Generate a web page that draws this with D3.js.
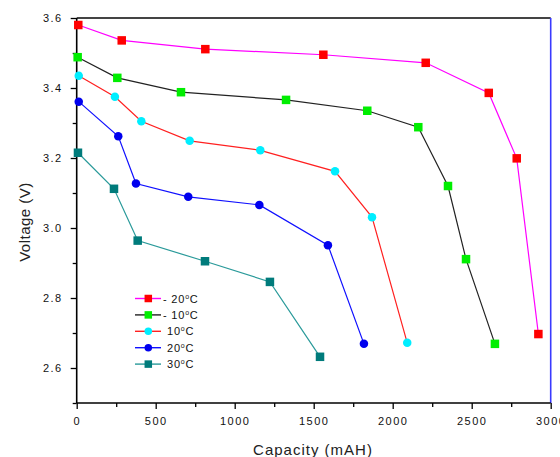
<!DOCTYPE html>
<html>
<head>
<meta charset="utf-8">
<script src="https://cdn.jsdelivr.net/npm/d3@7"></script>
<style>
  body { margin: 0; background: #fff; }
  text { font-family: "Liberation Sans", Arial, sans-serif; }
</style>
</head>
<body>
<div id="chart"></div>
<script>
// capacity (mAH) / voltage (V)
const capMinus20 = [10, 285, 814, 1561, 2209, 2608, 2785, 2922]
const voltMinus20 = [3.58, 3.536, 3.511, 3.495, 3.472, 3.386, 3.199, 2.697]

const capMinus10 = [6, 257, 660, 1325, 1839, 2162, 2350, 2464, 2647]
const voltMinus10 = [3.488, 3.429, 3.388, 3.366, 3.335, 3.288, 3.12, 2.911, 2.669]

const cap10 = [13, 242, 409, 715, 1162, 1635, 1869, 2092]
const volt10 = [3.435, 3.375, 3.305, 3.249, 3.222, 3.162, 3.031, 2.672]

const cap20 = [13, 263, 375, 706, 1156, 1590, 1818]
const volt20 = [3.361, 3.262, 3.127, 3.089, 3.066, 2.951, 2.669]

const cap30 = [8, 236, 386, 812, 1223, 1540]
const volt30 = [3.215, 3.112, 2.964, 2.905, 2.846, 2.632]

const seriesNames = ["- 20", "- 10", "10", "20", "30"]
const xTicks = [0, 500, 1000, 1500, 2000, 2500, 3000]
const yTicks = [2.6, 2.8, 3.0, 3.2, 3.4, 3.6]

const W = 560, H = 457
const MARGIN = { TOP: 18, LEFT: 76.7, RIGHT: 9.3, BOTTOM: 54 }
const WIDTH = W - MARGIN.LEFT - MARGIN.RIGHT
const HEIGHT = H - MARGIN.TOP - MARGIN.BOTTOM

const series = [
	{ name: seriesNames[0], cap: capMinus20, volt: voltMinus20, line: "#ff00ff", fill: "#ff0000", shape: "square" },
	{ name: seriesNames[1], cap: capMinus10, volt: voltMinus10, line: "#222222", fill: "#00ee00", shape: "square" },
	{ name: seriesNames[2], cap: cap10, volt: volt10, line: "#ff2020", fill: "#00eeff", shape: "circle" },
	{ name: seriesNames[3], cap: cap20, volt: volt20, line: "#1010ff", fill: "#0000ee", shape: "circle" },
	{ name: seriesNames[4], cap: cap30, volt: volt30, line: "#2a9a9a", fill: "#007b7b", shape: "square" }
]

const svg = d3.select("#chart").append("svg")
	.attr("width", W)
	.attr("height", H)

const g = svg.append("g")
	.attr("transform", `translate(${MARGIN.LEFT}, ${MARGIN.TOP})`)

const x = d3.scaleLinear().domain([0, 3000]).range([0, WIDTH])
const y = d3.scaleLinear().domain([2.5, 3.6]).range([HEIGHT, 0])

// minor ticks
const xAxisMinor = d3.axisBottom(x).tickValues(d3.range(250, 3000, 500)).tickSize(4).tickFormat("")
const yAxisMinor = d3.axisLeft(y).tickValues([2.5, 2.7, 2.9, 3.1, 3.3, 3.5]).tickSize(4).tickFormat("")
g.append("g").attr("transform", `translate(0, ${HEIGHT})`).call(xAxisMinor)
g.append("g").call(yAxisMinor)

const xAxisCall = d3.axisBottom(x).tickValues(xTicks).tickSize(6).tickPadding(8).tickFormat(d3.format("d"))
const yAxisCall = d3.axisLeft(y).tickValues(yTicks).tickSize(6).tickPadding(8).tickFormat(d3.format(".1f"))

g.append("g").attr("transform", `translate(0, ${HEIGHT})`).call(xAxisCall)
g.append("g").call(yAxisCall)

g.selectAll(".domain").remove()
g.selectAll(".tick line").attr("stroke", "#000").attr("stroke-width", 1.3)
g.selectAll(".tick text")
	.style("font-size", "11px")
	.style("letter-spacing", "1.5px")
	.attr("fill", "#111")

// frame
g.append("line").attr("x1", 0).attr("x2", WIDTH).attr("y1", 0).attr("y2", 0)
	.attr("stroke", "#444").attr("stroke-width", 2)
g.append("line").attr("x1", WIDTH).attr("x2", WIDTH).attr("y1", 0).attr("y2", HEIGHT)
	.attr("stroke", "#3a3aff").attr("stroke-width", 1.6)
g.append("line").attr("x1", 0).attr("x2", WIDTH).attr("y1", HEIGHT).attr("y2", HEIGHT)
	.attr("stroke", "#000").attr("stroke-width", 1.6)
g.append("line").attr("x1", 0).attr("x2", 0).attr("y1", 0).attr("y2", HEIGHT)
	.attr("stroke", "#000").attr("stroke-width", 1.6)

// axis titles
svg.append("text")
	.attr("x", 313)
	.attr("y", 455)
	.attr("text-anchor", "middle")
	.style("font-size", "15px")
	.style("letter-spacing", "1px")
	.attr("fill", "#222")
	.text("Capacity (mAH)")

svg.append("text")
	.attr("transform", "translate(30, 222) rotate(-90)")
	.attr("text-anchor", "middle")
	.style("font-size", "15px")
	.style("letter-spacing", "0.5px")
	.attr("fill", "#222")
	.text("Voltage (V)")

const line = d3.line().x(d => x(d[0])).y(d => y(d[1]))

function drawMarker(sel, s, cx, cy, size) {
	if (s.shape == "square") {
		sel.append("rect")
			.attr("x", cx - size / 2).attr("y", cy - size / 2)
			.attr("width", size).attr("height", size)
			.attr("fill", s.fill)
	} else {
		sel.append("circle")
			.attr("cx", cx).attr("cy", cy).attr("r", size / 2)
			.attr("fill", s.fill)
	}
}

series.forEach(s => {
	const pts = s.cap.map((c, i) => [c, s.volt[i]])
	g.append("path")
		.datum(pts)
		.attr("d", line)
		.attr("fill", "none")
		.attr("stroke", s.line)
		.attr("stroke-width", 1.2)
	const mg = g.append("g")
	pts.forEach(p => drawMarker(mg, s, x(p[0]), y(p[1]), 8.5))
})

// legend
const legend = svg.append("g")
series.forEach((s, i) => {
	const ly = 298.5 + i * 16.4
	legend.append("line")
		.attr("x1", 135).attr("x2", 161).attr("y1", ly).attr("y2", ly)
		.attr("stroke", s.line).attr("stroke-width", 1.4)
	drawMarker(legend, s, 148.3, ly, 7.5)
	const t = legend.append("text")
		.attr("x", s.name.startsWith("-") ? 163 : 167)
		.attr("y", ly + 4)
		.style("font-size", "11px")
		.style("letter-spacing", "0.8px")
		.attr("fill", "#111")
	t.append("tspan").text(s.name)
	t.append("tspan").attr("dy", -4).style("font-size", "7px").text("o")
	t.append("tspan").attr("dy", 4).text("C")
})
</script>
</body>
</html>
